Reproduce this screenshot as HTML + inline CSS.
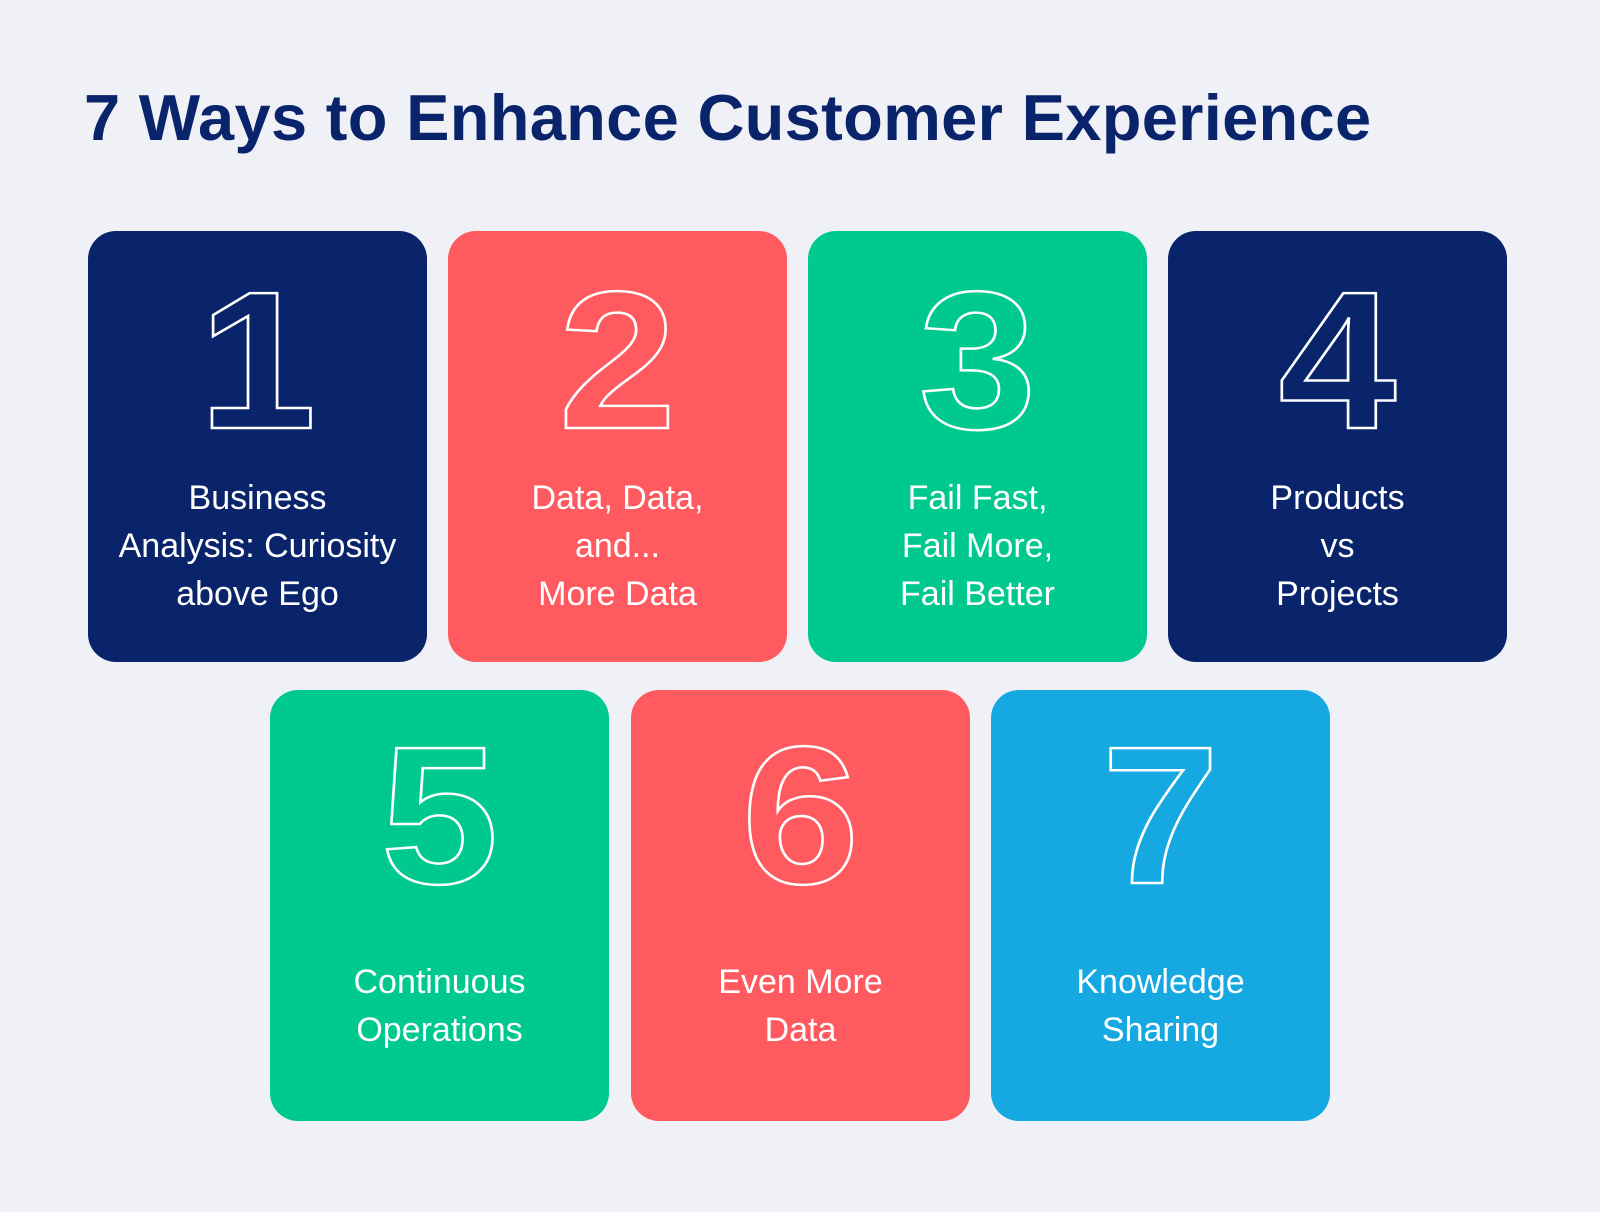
<!DOCTYPE html>
<html><head><meta charset="utf-8"><style>
body{margin:0;width:1600px;height:1212px;background:#eff1f7;position:relative;overflow:hidden;font-family:"Liberation Sans",sans-serif}
h1{position:absolute;left:84px;top:80px;margin:0;font-size:65px;font-weight:bold;color:#0a246b;letter-spacing:0.3px;white-space:nowrap}
.c{position:absolute;width:339px;height:431px;border-radius:28px}
.n{position:absolute;left:0;right:0;top:40px;height:180px;line-height:180px;text-align:center;font-size:196px;font-weight:bold;color:transparent;-webkit-text-stroke:2.5px #fff;transform:scaleX(1.08)}
.t{position:absolute;left:0;right:0;text-align:center;color:#fff;font-size:34px;line-height:48px}
.nv{background:#0a246b}.rd{background:#ff5a5f}.gr{background:#00c98f}.bl{background:#16a8e0}
</style></head><body>
<h1>7 Ways to Enhance Customer Experience</h1>
<div class="c nv" style="left:88px;top:231px"><div class="n">1</div><div class="t" style="top:243px">Business<br>Analysis: Curiosity<br>above Ego</div></div>
<div class="c rd" style="left:448px;top:231px"><div class="n">2</div><div class="t" style="top:243px">Data, Data,<br>and...<br>More Data</div></div>
<div class="c gr" style="left:808px;top:231px"><div class="n">3</div><div class="t" style="top:243px">Fail Fast,<br>Fail More,<br>Fail Better</div></div>
<div class="c nv" style="left:1168px;top:231px"><div class="n">4</div><div class="t" style="top:243px">Products<br>vs<br>Projects</div></div>
<div class="c gr" style="left:270px;top:690px"><div class="n" style="top:36px">5</div><div class="t" style="top:268px">Continuous<br>Operations</div></div>
<div class="c rd" style="left:631px;top:690px"><div class="n" style="top:36px">6</div><div class="t" style="top:268px">Even More<br>Data</div></div>
<div class="c bl" style="left:991px;top:690px"><div class="n" style="top:36px">7</div><div class="t" style="top:268px">Knowledge<br>Sharing</div></div>
</body></html>
